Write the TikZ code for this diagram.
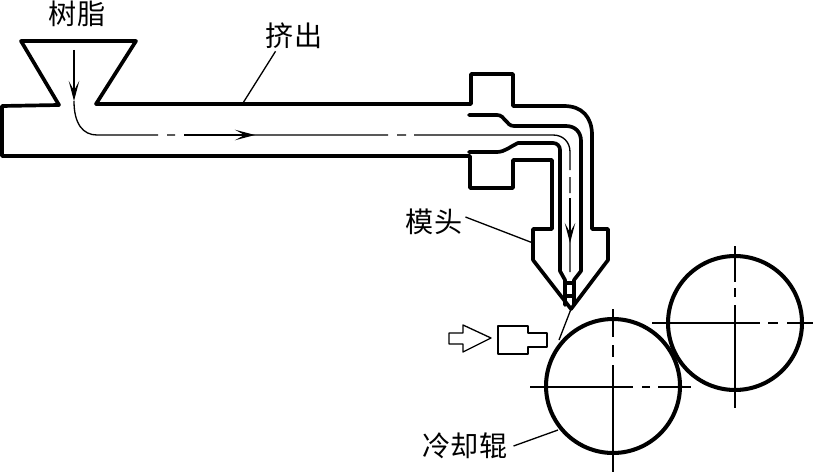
\documentclass[tikz,border=0pt]{standalone}
\usepackage{fontspec}
\newfontfamily\cjk{Noto Sans CJK SC}
\usetikzlibrary{arrows.meta}
\tikzset{
	wall/.style={line width=2.1pt, line join=round, line cap=round},
	thinline/.style={line width=0.75pt},
	flow/.style={line width=0.75pt, -{Stealth[length=4mm, width=2.1mm, inset=1.9mm]}},
	tag/.style={inner sep=0pt, font=\cjk\fontsize{16pt}{16pt}\selectfont}
}
\begin{document}
\begin{tikzpicture}[x=0.02cm, y=-0.02cm, line join=round]
	\useasboundingbox (0,0) rectangle (813,473);
	% --- Phễu và nòng ép ---
	\draw[wall] (59,105) -- (21,41) -- (136,41) -- (96,104);
	\draw[wall] (59,105) -- (2,106) -- (2,156) -- (470,156) -- (470,188) -- (513,188) -- (513,160) -- (552,160) -- (552,229) -- (533,229) -- (533,260) -- (571,309) -- (608,260) -- (608,229) -- (592,229) -- (592,135) .. controls (592,117) and (582,106) .. (564,106) -- (513,106) -- (513,74) -- (471,74) -- (471,104) -- (96,104);
	% --- Kênh trong ---
	\draw[wall] (469,115) -- (497,115) .. controls (505,115) and (506,126) .. (514,126) -- (566,126) .. controls (575,126) and (581,132) .. (581,141) -- (581,271) -- (574,280) -- (574,305);
	\draw[wall] (469,152) -- (497,152) .. controls (505,152) and (511,146) .. (518,143) -- (553,143) .. controls (557,143) and (560,146) .. (560,150) -- (560,271) -- (565,280) -- (565,305);
	\draw[wall] (565,283) -- (574,283) (565,296) -- (574,296);
	% --- Đường tâm dòng chảy ---
	\draw[flow] (74,50) -- (74,101);
	\draw[thinline] (74,101) .. controls (74,124) and (83,135) .. (97,135) -- (158,135) (167,135) -- (175,135) (184,135) -- (388,135) (397,135) -- (406,135) (414,135) -- (553,135) .. controls (563,135) and (570,142) .. (570,152) -- (570,170) (570,177) -- (570,193) (570,198) -- (570,272);
	\draw[flow] (184,135) -- (255,135);
	\draw[flow] (570,198) -- (570,243);
	% --- Trục lăn ---
	\coordinate (rollA) at (613,386);
	\coordinate (rollB) at (735,323);
	\draw[line width=2.3pt] (rollA) circle (1.34cm);
	\draw[line width=2.3pt] (rollB) circle (1.34cm);
	\draw[thinline] (530,387) -- (633,387) (642,387) -- (650,387) (658,387) -- (691,387);
	\draw[thinline] (613,309) -- (613,337) (613,345) -- (613,357) (613,365) -- (613,472);
	\draw[thinline] (652,323) -- (760,323) (768,323) -- (778,323) (787,323) -- (813,323);
	\draw[thinline] (735,246) -- (735,282) (735,288) -- (735,297) (735,305) -- (735,408);
	% --- Màng và dao gió ---
	\draw[thinline] (571,309) -- (559,340);
	\draw[thinline] (449,333) -- (463,333) -- (463,325) -- (491,338) -- (463,352) -- (463,344) -- (449,344) -- cycle;
	\draw[thinline] (498,326) -- (528,326) -- (528,333) -- (547,333) -- (547,347) -- (528,347) -- (528,354) -- (498,354) -- cycle;
	% --- Nhãn ---
	\node[tag] (resin) at (77,14) {树脂};
	\node[tag] (extrude) at (294,36) {挤出};
	\node[tag] (die) at (434,222) {模头};
	\node[tag] (roller) at (465,446) {冷却辊};
	\coordinate (extrudeEnd) at (243,103);
	\coordinate (dieEnd) at (533,243);
	\coordinate (rollerEnd) at (558,430);
	\draw[thinline] (extrude.south west) ++(10,2) -- (extrudeEnd);
	\draw[thinline] (die.east) ++(3,-5) -- (dieEnd);
	\draw[thinline] (roller.east) ++(6,0) -- (rollerEnd);
\end{tikzpicture}
\end{document}
